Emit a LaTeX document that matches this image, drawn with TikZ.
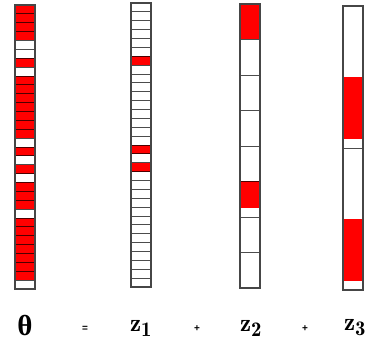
\documentclass[tikz,border=0pt]{standalone}
\usepackage{amsmath,amssymb}
\usepackage{fontspec}
\newfontfamily\greekfont{Liberation Serif}
\newfontfamily\opfont{Liberation Sans}
\usepackage{tikz}
\usetikzlibrary{positioning}
\definecolor{cellred}{RGB}{255,0,0}
\definecolor{framegrey}{RGB}{70,70,70}
\tikzset{
  cellfill/.style={fill=cellred},
  gridline/.style={draw=black, draw opacity=0.7, line width=0.9pt},
  colframe/.style={draw=framegrey, line width=1.4pt},
  bigsym/.style={font=\Huge, inner sep=0pt},
  opsym/.style={font=\opfont\normalsize\bfseries, inner sep=0pt},
}
\def\cellh{8.875}
\begin{document}
\begin{tikzpicture}[x=1pt,y=-1pt]
  \useasboundingbox (0,0) rectangle (374,347);
  % theta column, one cell per slot
  \foreach \c in {0,1,2,3,6,8,9,10,11,12,13,14,16,18,20,21,22,24,25,26,27,28,29,30}
    \fill[cellfill] (15,{5+\c*\cellh}) rectangle ++(20,\cellh);
  \foreach \i in {1,...,31}
    \draw[gridline] (15,{5+\i*\cellh}) -- ++(20,0);
  \draw[colframe] (15,5) rectangle ++(20,{32*\cellh});
  % z1 column
  \foreach \c in {6,16,18}
    \fill[cellfill] (131,{3+\c*\cellh}) rectangle ++(20,\cellh);
  \foreach \i in {1,...,31}
    \draw[gridline] (131,{3+\i*\cellh}) -- ++(20,0);
  \draw[colframe] (131,3) rectangle ++(20,{32*\cellh});
  % z2 column, blocks of four
  \fill[cellfill] (240,4) rectangle ++(20,{4*\cellh});
  \fill[cellfill] (240,{4+20*\cellh}) rectangle ++(20,{3*\cellh});
  \foreach \i in {4,8,...,28}
    \draw[gridline] (240,{4+\i*\cellh}) -- ++(20,0);
  \draw[colframe] (240,4) rectangle ++(20,{32*\cellh});
  % z3 column, blocks of sixteen
  \fill[cellfill] (343,{6+8*\cellh}) rectangle ++(20,{7*\cellh});
  \fill[cellfill] (343,{6+24*\cellh}) rectangle ++(20,{7*\cellh});
  \draw[gridline] (343,{6+16*\cellh}) -- ++(20,0);
  \draw[colframe] (343,6) rectangle ++(20,{32*\cellh});
  % labels
  \node[bigsym, font=\fontsize{29}{32}\selectfont\greekfont\bfseries] (lblTheta) at (25,326) {θ};
  \node[opsym] (lblEq) at (85,329) {=};
  \node[bigsym] (lblZa) at (141,328) {$\mathbf{z}_{\mathbf{1}}$};
  \node[opsym] (lblPlusA) at (197,329) {+};
  \node[bigsym] (lblZb) at (251,328) {$\mathbf{z}_{\mathbf{2}}$};
  \node[opsym] (lblPlusB) at (305,329) {+};
  \node[bigsym] (lblZc) at (355,328) {$\mathbf{z}_{\mathbf{3}}$};
\end{tikzpicture}
\end{document}
